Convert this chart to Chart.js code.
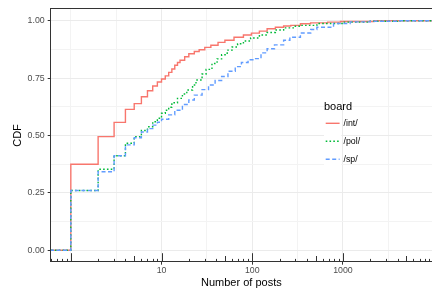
<!DOCTYPE html>
<html>
<head>
<meta charset="utf-8">
<script src="https://cdn.jsdelivr.net/npm/chart.js@4.4.1/dist/chart.umd.min.js"></script>
<style>
  body { margin: 0; background: #fff; }
  #wrap { width: 432px; height: 291px; position: relative; }
</style>
</head>
<body>
<div id="wrap"><canvas id="cdfChart"></canvas></div>
<script>
// ECDF of number of posts per board
const boards = ['/int/', '/pol/', '/sp/'];

const intPosts = [0.5, 1, 2, 3, 4, 5, 6, 7, 8, 9, 10, 11, 12, 13, 14, 15, 16, 18, 20, 23, 26, 30, 35, 42, 50, 63, 80, 98, 120, 146, 180, 222, 266, 340, 440, 680, 940, 2200, 20000];
const intCdf   = [0, 0.375, 0.495, 0.557, 0.614, 0.639, 0.669, 0.695, 0.716, 0.733, 0.746, 0.76, 0.775, 0.79, 0.806, 0.818, 0.828, 0.843, 0.856, 0.866, 0.874, 0.884, 0.893, 0.906, 0.915, 0.928, 0.938, 0.946, 0.955, 0.965, 0.972, 0.977, 0.98, 0.987, 0.991, 0.994, 0.997, 1, 1];

const polPosts = [0.5, 1, 2, 3, 4, 5, 6, 7, 8, 9, 10, 11, 12, 13, 15, 17, 19, 22, 24, 28, 31, 36, 41, 46, 53, 60, 69, 80, 96, 120, 146, 180, 222, 290, 338, 516, 1000, 2000, 4000, 20000];
const polCdf   = [0, 0.26, 0.353, 0.412, 0.466, 0.495, 0.522, 0.538, 0.56, 0.575, 0.597, 0.61, 0.623, 0.643, 0.662, 0.681, 0.698, 0.72, 0.742, 0.768, 0.788, 0.814, 0.834, 0.852, 0.872, 0.886, 0.9, 0.912, 0.925, 0.938, 0.949, 0.96, 0.969, 0.976, 0.98, 0.988, 0.994, 0.998, 1, 1];

const spPosts = [0.5, 1, 2, 3, 4, 5, 6, 7, 8, 9, 10, 12, 14, 17, 20, 23, 28, 33, 39, 46, 54, 65, 76, 90, 104, 125, 146, 176, 222, 260, 340, 442, 516, 788, 1200, 2000, 4000, 20000];
const spCdf   = [0, 0.26, 0.342, 0.412, 0.459, 0.49, 0.515, 0.53, 0.545, 0.558, 0.571, 0.59, 0.61, 0.635, 0.655, 0.676, 0.7, 0.72, 0.74, 0.757, 0.78, 0.8, 0.818, 0.83, 0.835, 0.86, 0.878, 0.895, 0.915, 0.928, 0.947, 0.962, 0.972, 0.988, 0.995, 0.998, 1, 1];

const xMajor = [10, 100, 1000];
const xTickLabels = ['10', '100', '1000'];
const yMajor = [0, 0.25, 0.5, 0.75, 1];
const yTickLabels = ['0.00', '0.25', '0.50', '0.75', '1.00'];

const colors = ['#F8766D', '#00BA38', '#619CFF'];
const dashes = [[], [1.6, 2.2], [4, 2.5]];
const FONT = 'Liberation Sans, Arial, Helvetica, sans-serif';

// minor grid sits halfway (in log space) between majors, one extra on each side
const xGrid = [1];
xMajor.forEach(v => { xGrid.push(v / Math.sqrt(10)); xGrid.push(v); });
xGrid.push(xMajor[xMajor.length - 1] * Math.sqrt(10));
const yGrid = [];
for (let i = 0; i < yMajor.length; i++) {
  yGrid.push(yMajor[i]);
  if (i < yMajor.length - 1) yGrid.push((yMajor[i] + yMajor[i + 1]) / 2);
}

function isMajor(list, v) {
  return list.some(m => Math.abs(m - v) < 1e-6 * Math.max(1, m));
}

const toPoints = (xs, ys) => xs.map((x, i) => ({ x: x, y: ys[i] }));

// panel border + log ticks along the bottom
const panelPlugin = {
  id: 'panel',
  afterDatasetsDraw(chart) {
    const ctx = chart.ctx;
    const a = chart.chartArea;
    const xs = chart.scales.x;
    ctx.save();
    ctx.strokeStyle = '#333333';
    ctx.lineWidth = 1;
    for (let k = -1; k <= 4; k++) {
      for (let m = 1; m <= 9; m++) {
        const v = m * Math.pow(10, k);
        const px = xs.getPixelForValue(v);
        if (px < a.left || px > a.right) continue;
        const len = m === 1 ? 8.5 : (m === 5 ? 5.7 : 2.8);
        const x = Math.round(px) + 0.5;
        ctx.beginPath();
        ctx.moveTo(x, a.bottom);
        ctx.lineTo(x, a.bottom - len);
        ctx.stroke();
      }
    }
    ctx.strokeRect(Math.round(a.left) - 0.5, Math.round(a.top) - 0.5, a.right - a.left + 20, Math.round(a.bottom) - Math.round(a.top));
    ctx.restore();
  }
};

// ggplot-like legend inside the panel
const legendPlugin = {
  id: 'boardLegend',
  afterDraw(chart) {
    const ctx = chart.ctx;
    const x0 = 324, keyW = 17.3, keyH = 17.3;
    const centers = [123.3, 141.3, 159.3];
    ctx.save();
    ctx.fillStyle = '#000';
    ctx.font = '11px ' + FONT;
    ctx.textBaseline = 'middle';
    ctx.textAlign = 'left';
    ctx.fillText('board', x0, 106.7);
    boards.forEach((b, i) => {
      const cy = centers[i];
      ctx.fillStyle = '#fff';
      ctx.fillRect(x0, cy - keyH / 2, keyW, keyH);
      ctx.strokeStyle = colors[i];
      ctx.lineWidth = 1.4;
      ctx.setLineDash(dashes[i]);
      ctx.beginPath();
      ctx.moveTo(x0 + 1.7, cy);
      ctx.lineTo(x0 + keyW - 1.7, cy);
      ctx.stroke();
      ctx.setLineDash([]);
      ctx.fillStyle = '#000';
      ctx.font = '8.8px ' + FONT;
      ctx.fillText(b, x0 + keyW + 2.2, cy);
    });
    ctx.restore();
  }
};

const seriesX = [intPosts, polPosts, spPosts];
const seriesY = [intCdf, polCdf, spCdf];

const ctx = document.getElementById('cdfChart').getContext('2d');
const cdfChart = new Chart(ctx, {
  type: 'line',
  data: {
    datasets: boards.map((b, i) => ({
      label: b,
      data: toPoints(seriesX[i], seriesY[i]),
      borderColor: colors[i],
      borderWidth: 1.4,
      borderDash: dashes[i],
      stepped: true,
      pointRadius: 0,
      fill: false,
      order: 2 - i
    }))
  },
  options: {
    responsive: true,
    maintainAspectRatio: false,
    animation: false,
    devicePixelRatio: 1,
    layout: { padding: { top: 9.3, right: 0, bottom: 0, left: 0 } },
    plugins: {
      legend: { display: false },
      tooltip: { enabled: false }
    },
    scales: {
      x: {
        type: 'logarithmic',
        position: 'bottom',
        min: 0.645,
        max: 9600,
        afterBuildTicks(scale) { scale.ticks = xGrid.map(v => ({ value: v })); },
        afterFit(scale) { scale.height = 29.3; },
        border: { display: false },
        grid: {
          color: c => isMajor(xMajor, c.tick.value) ? '#EBEBEB' : '#F3F3F3',
          lineWidth: 1,
          tickLength: 3,
          tickColor: c => isMajor(xMajor, c.tick.value) ? '#333333' : 'rgba(0,0,0,0)'
        },
        ticks: {
          autoSkip: false,
          maxRotation: 0,
          padding: 1,
          color: '#4D4D4D',
          font: { family: FONT, size: 8.8 },
          callback: v => {
            const i = xMajor.findIndex(m => Math.abs(m - v) < 1e-6 * m);
            return i >= 0 ? xTickLabels[i] : '';
          }
        },
        title: {
          display: true,
          text: 'Number of posts',
          color: '#000',
          font: { family: FONT, size: 11 },
          padding: { top: 0, bottom: 1 }
        }
      },
      y: {
        min: -0.05,
        max: 1.05,
        afterBuildTicks(scale) { scale.ticks = yGrid.map(v => ({ value: v })); },
        afterFit(scale) { scale.width = 50.7; },
        border: { display: false },
        grid: {
          color: c => isMajor(yMajor, c.tick.value) ? '#EBEBEB' : '#F3F3F3',
          lineWidth: 1,
          tickLength: 3,
          tickColor: c => isMajor(yMajor, c.tick.value) ? '#333333' : 'rgba(0,0,0,0)'
        },
        ticks: {
          autoSkip: false,
          padding: 3,
          color: '#4D4D4D',
          font: { family: FONT, size: 8.8 },
          callback: v => {
            const i = yMajor.findIndex(m => Math.abs(m - v) < 1e-6);
            return i >= 0 ? yTickLabels[i] : '';
          }
        },
        title: {
          display: true,
          text: 'CDF',
          color: '#000',
          font: { family: FONT, size: 11 },
          padding: { top: 11, bottom: 0 }
        }
      }
    }
  },
  plugins: [panelPlugin, legendPlugin]
});
</script>
</body>
</html>
